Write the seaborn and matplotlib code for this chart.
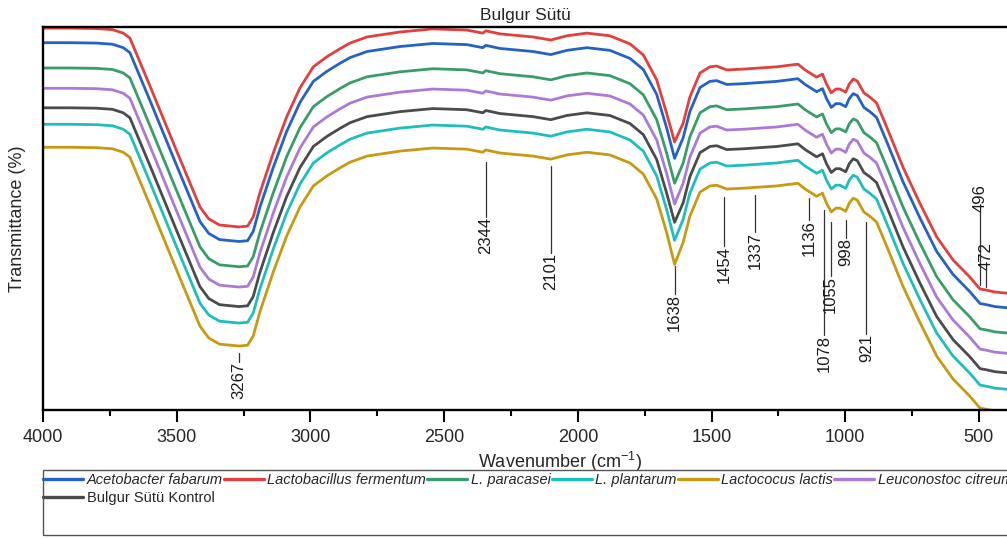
import pandas as pd
import matplotlib
matplotlib.use("Agg")
import matplotlib.pyplot as plt
from matplotlib.lines import Line2D
from matplotlib.patches import Rectangle
from matplotlib.ticker import MultipleLocator
import seaborn as sns

# FTIR spectra of bulgur milk samples (transmittance, offset for display)
wavenumber = [4000, 3900, 3800, 3740, 3700, 3675, 3600, 3500, 3413, 3380,
              3340, 3267, 3235, 3214, 3189, 3139, 3089, 3039, 2989, 2939,
              2890, 2852, 2788, 2665, 2542, 2415, 2355, 2344, 2291, 2168,
              2101, 2041, 1966, 1880, 1805, 1755, 1705, 1668, 1638, 1606,
              1581, 1543, 1506, 1481, 1443, 1381, 1319, 1256, 1177, 1150,
              1132, 1107, 1085, 1070, 1052, 1035, 1020, 998, 985, 970,
              955, 930, 908, 883, 845, 784, 721, 658, 597, 534,
              496, 472, 440, 395]

lactobacillus_fermentum = [
    99.7, 99.7, 99.6, 99.3, 98.4, 97.1, 84.6, 67.6, 53.0, 49.9,
    48.3, 47.8, 48.0, 50.4, 56.7, 67.1, 76.5, 84.1, 89.6, 92.2,
    94.3, 95.8, 97.4, 98.7, 99.5, 99.2, 98.4, 99.0, 98.2, 97.4,
    96.6, 97.7, 98.4, 97.7, 95.6, 92.7, 86.2, 77.5, 70.0, 74.9,
    81.7, 88.0, 89.6, 89.8, 88.8, 89.0, 89.3, 89.6, 90.3, 88.8,
    88.0, 86.9, 87.7, 85.1, 82.8, 83.8, 83.8, 83.0, 85.1, 86.4,
    85.9, 82.8, 81.7, 80.2, 73.9, 63.4, 54.0, 45.2, 39.2, 34.7,
    31.6, 31.3, 30.8, 30.5]

acetobacter_fabarum = [
    95.9, 95.9, 95.8, 95.5, 94.6, 93.3, 80.8, 63.8, 49.2, 46.1,
    44.5, 44.0, 44.2, 46.6, 52.9, 63.3, 72.7, 80.3, 85.8, 88.4,
    90.5, 92.0, 93.6, 94.9, 95.7, 95.4, 94.6, 95.2, 94.4, 93.6,
    92.8, 93.9, 94.6, 93.9, 91.8, 88.9, 82.4, 73.7, 65.7, 71.1,
    77.9, 84.2, 85.8, 86.0, 85.0, 85.2, 85.5, 85.8, 86.5, 85.0,
    84.2, 83.1, 83.9, 81.3, 79.0, 80.0, 80.0, 79.2, 81.3, 82.6,
    82.1, 79.0, 77.9, 76.4, 70.1, 59.6, 50.2, 41.4, 35.4, 30.9,
    27.8, 27.5, 27.0, 26.7]

l_paracasei = [
    89.3, 89.3, 89.2, 88.9, 88.0, 86.7, 74.2, 57.2, 42.6, 39.5,
    37.9, 37.4, 37.6, 40.0, 46.3, 56.7, 66.1, 73.7, 79.2, 81.8,
    83.9, 85.4, 87.0, 88.3, 89.1, 88.8, 88.0, 88.6, 87.8, 87.0,
    86.2, 87.3, 88.0, 87.3, 85.2, 82.3, 75.8, 67.1, 59.2, 64.5,
    71.3, 77.6, 79.2, 79.4, 78.4, 78.6, 78.9, 79.2, 79.9, 78.4,
    77.6, 76.5, 77.3, 74.7, 72.4, 73.4, 73.4, 72.6, 74.7, 76.0,
    75.5, 72.4, 71.3, 69.8, 63.5, 53.0, 43.6, 34.8, 28.8, 24.3,
    21.2, 20.9, 20.4, 20.1]

leuconostoc_citreum = [
    84.0, 84.0, 83.9, 83.6, 82.7, 81.4, 68.9, 51.9, 37.3, 34.2,
    32.6, 32.1, 32.3, 34.7, 41.0, 51.4, 60.8, 68.4, 73.9, 76.5,
    78.6, 80.1, 81.7, 83.0, 83.8, 83.5, 82.7, 83.3, 82.5, 81.7,
    80.9, 82.0, 82.7, 82.0, 79.9, 77.0, 70.5, 61.8, 53.8, 59.2,
    66.0, 72.3, 73.9, 74.1, 73.1, 73.3, 73.6, 73.9, 74.6, 73.1,
    72.3, 71.2, 72.0, 69.4, 67.1, 68.1, 68.1, 67.3, 69.4, 70.7,
    70.2, 67.1, 66.0, 64.5, 58.2, 47.7, 38.3, 29.5, 23.5, 19.0,
    15.9, 15.6, 15.1, 14.8]

bulgur_sutu_kontrol = [
    78.9, 78.9, 78.8, 78.5, 77.6, 76.3, 63.8, 46.8, 32.2, 29.1,
    27.5, 27.0, 27.2, 29.6, 35.9, 46.3, 55.7, 63.3, 68.8, 71.4,
    73.5, 75.0, 76.6, 77.9, 78.7, 78.4, 77.6, 78.2, 77.4, 76.6,
    75.8, 76.9, 77.6, 76.9, 74.8, 71.9, 65.4, 56.7, 49.0, 54.1,
    60.9, 67.2, 68.8, 69.0, 68.0, 68.2, 68.5, 68.8, 69.5, 68.0,
    67.2, 66.1, 66.9, 64.3, 62.0, 63.0, 63.0, 62.2, 64.3, 65.6,
    65.1, 62.0, 60.9, 59.4, 53.1, 42.6, 33.2, 24.4, 18.4, 13.9,
    10.8, 10.5, 10.0, 9.7]

l_plantarum = [
    74.6, 74.6, 74.5, 74.2, 73.3, 72.0, 59.5, 42.5, 27.9, 24.8,
    23.2, 22.7, 22.9, 25.3, 31.6, 42.0, 51.4, 59.0, 64.5, 67.1,
    69.2, 70.7, 72.3, 73.6, 74.4, 74.1, 73.3, 73.9, 73.1, 72.3,
    71.5, 72.6, 73.3, 72.6, 70.5, 67.6, 61.1, 52.4, 44.3, 49.8,
    56.6, 62.9, 64.5, 64.7, 63.7, 63.9, 64.2, 64.5, 65.2, 63.7,
    62.9, 61.8, 62.6, 60.0, 57.7, 58.7, 58.7, 57.9, 60.0, 61.3,
    60.8, 57.7, 56.6, 55.1, 48.8, 38.3, 28.9, 20.1, 14.1, 9.6,
    6.5, 6.2, 5.7, 5.4]

lactococus_lactis = [
    68.6, 68.6, 68.5, 68.2, 67.3, 66.0, 53.5, 36.5, 21.9, 18.8,
    17.2, 16.7, 16.9, 19.3, 25.6, 36.0, 45.4, 53.0, 58.5, 61.1,
    63.2, 64.7, 66.3, 67.6, 68.4, 68.1, 67.3, 67.9, 67.1, 66.3,
    65.5, 66.6, 67.3, 66.6, 64.5, 61.6, 55.1, 46.4, 38.0, 43.8,
    50.6, 56.9, 58.5, 58.7, 57.7, 57.9, 58.2, 58.5, 59.2, 57.7,
    56.9, 55.8, 56.6, 54.0, 51.7, 52.7, 52.7, 51.9, 54.0, 55.3,
    54.8, 51.7, 50.6, 49.1, 42.8, 32.3, 22.9, 14.1, 8.1, 3.6,
    0.5, 0.2, -0.3, -0.6]

series_names = ["Acetobacter fabarum", "Lactobacillus fermentum", "L. paracasei",
                "L. plantarum", "Lactococus lactis", "Leuconostoc citreum",
                "Bulgur Sütü Kontrol"]
series_values = [acetobacter_fabarum, lactobacillus_fermentum, l_paracasei,
                 l_plantarum, lactococus_lactis, leuconostoc_citreum,
                 bulgur_sutu_kontrol]
series_colors = ["#2462C6", "#E23F3F", "#3A9D69", "#1EBEBE", "#C89A12",
                 "#AC79D6", "#4B4B4B"]
italic_names = series_names[:6]

# Band assignments marked on the spectra: (wavenumber, leader start, leader end)
peak_marks = [(3267, 15.0, 12.6), (2344, 64.8, 50.4), (2101, 63.7, 41.0),
              (1638, 37.6, 30.3), (1454, 55.6, 42.8), (1337, 56.1, 46.5),
              (1136, 55.4, 49.6), (1078, 52.2, 19.6), (1055, 49.1, 35.0),
              (998, 49.6, 44.9), (921, 49.1, 19.8), (496, 32.6, 51.7),
              (472, 32.1, 36.6)]

frames = []
for name, vals in zip(series_names, series_values):
    frames.append(pd.DataFrame({"Wavenumber": wavenumber,
                                "Transmittance": vals, "Sample": name}))
data = pd.concat(frames, ignore_index=True)

sns.set_theme(style="white")
plt.rcParams["font.family"] = ["Liberation Sans", "DejaVu Sans"]
plt.rcParams["mathtext.fontset"] = "custom"
plt.rcParams["mathtext.rm"] = "Liberation Sans"

W, H = 1007, 539
fig = plt.figure(figsize=(W / 100, H / 100), dpi=100)
ax = fig.add_axes([43 / W, 1 - 410 / H, 1 - 43 / W, (410 - 27) / H])

palette = dict(zip(series_names, series_colors))
sns.lineplot(data=data, x="Wavenumber", y="Transmittance", hue="Sample",
             palette=palette, estimator=None, linewidth=2.0, legend=False,
             ax=ax)

for wn, y0, y1 in peak_marks:
    ax.plot([wn, wn], [y0, y1], color="#333333", lw=0.9, zorder=4)
    ax.text(wn, y1, str(wn), rotation=90, ha="center",
            va="top" if y1 < y0 else "bottom", fontsize=12,
            color="#1a1a1a", zorder=5)

ax.set_xlim(4000, 395)
ax.set_ylim(0, 100)
ax.xaxis.set_major_locator(MultipleLocator(500))
ax.xaxis.set_minor_locator(MultipleLocator(250))
ax.set_yticks([])
ax.tick_params(axis="x", which="major", direction="out", length=8.5,
               width=1.5, labelsize=13, pad=5, color="black", bottom=True)
ax.tick_params(axis="x", which="minor", direction="out", length=4.5,
               width=1.5, color="black", bottom=True)
for side in ["left", "top", "bottom"]:
    ax.spines[side].set_color("black")
    ax.spines[side].set_linewidth(1.7)
ax.spines["right"].set_visible(False)

ax.set_xlabel(r"Wavenumber (cm$^{\mathregular{-1}}$)", fontsize=13)
ax.xaxis.set_label_coords((560 - 43) / (W - 43), -0.105)
ax.set_ylabel("Transmittance (%)", fontsize=13)
ax.yaxis.set_label_coords(-17 / (W - 43), 0.5)
ax.set_title("Bulgur Sütü", fontsize=12.5, pad=5)

# Legend fills column by column: the control goes under the first entry
order = [0, 6, 1, 2, 3, 4, 5]
handles = [Line2D([0], [0], color=series_colors[i], lw=2.4) for i in order]
labels = [series_names[i] for i in order]
leg = fig.legend(handles, labels, loc="upper left",
                 bbox_to_anchor=(43 / W, 1 - 473 / H),
                 bbox_transform=fig.transFigure, ncol=6, frameon=False,
                 fontsize=10.5, handlelength=2.75, handletextpad=0.25,
                 columnspacing=0.06, labelspacing=0.3, borderpad=0,
                 borderaxespad=0)
for txt in leg.get_texts():
    if txt.get_text() in italic_names:
        txt.set_fontstyle("italic")

fig.patches.append(Rectangle((43 / W, 1 - 535 / H), 1.0, (535 - 470) / H,
                             transform=fig.transFigure, fill=False,
                             edgecolor="#555555", lw=1.0))

fig.savefig("out.png", dpi=100)
